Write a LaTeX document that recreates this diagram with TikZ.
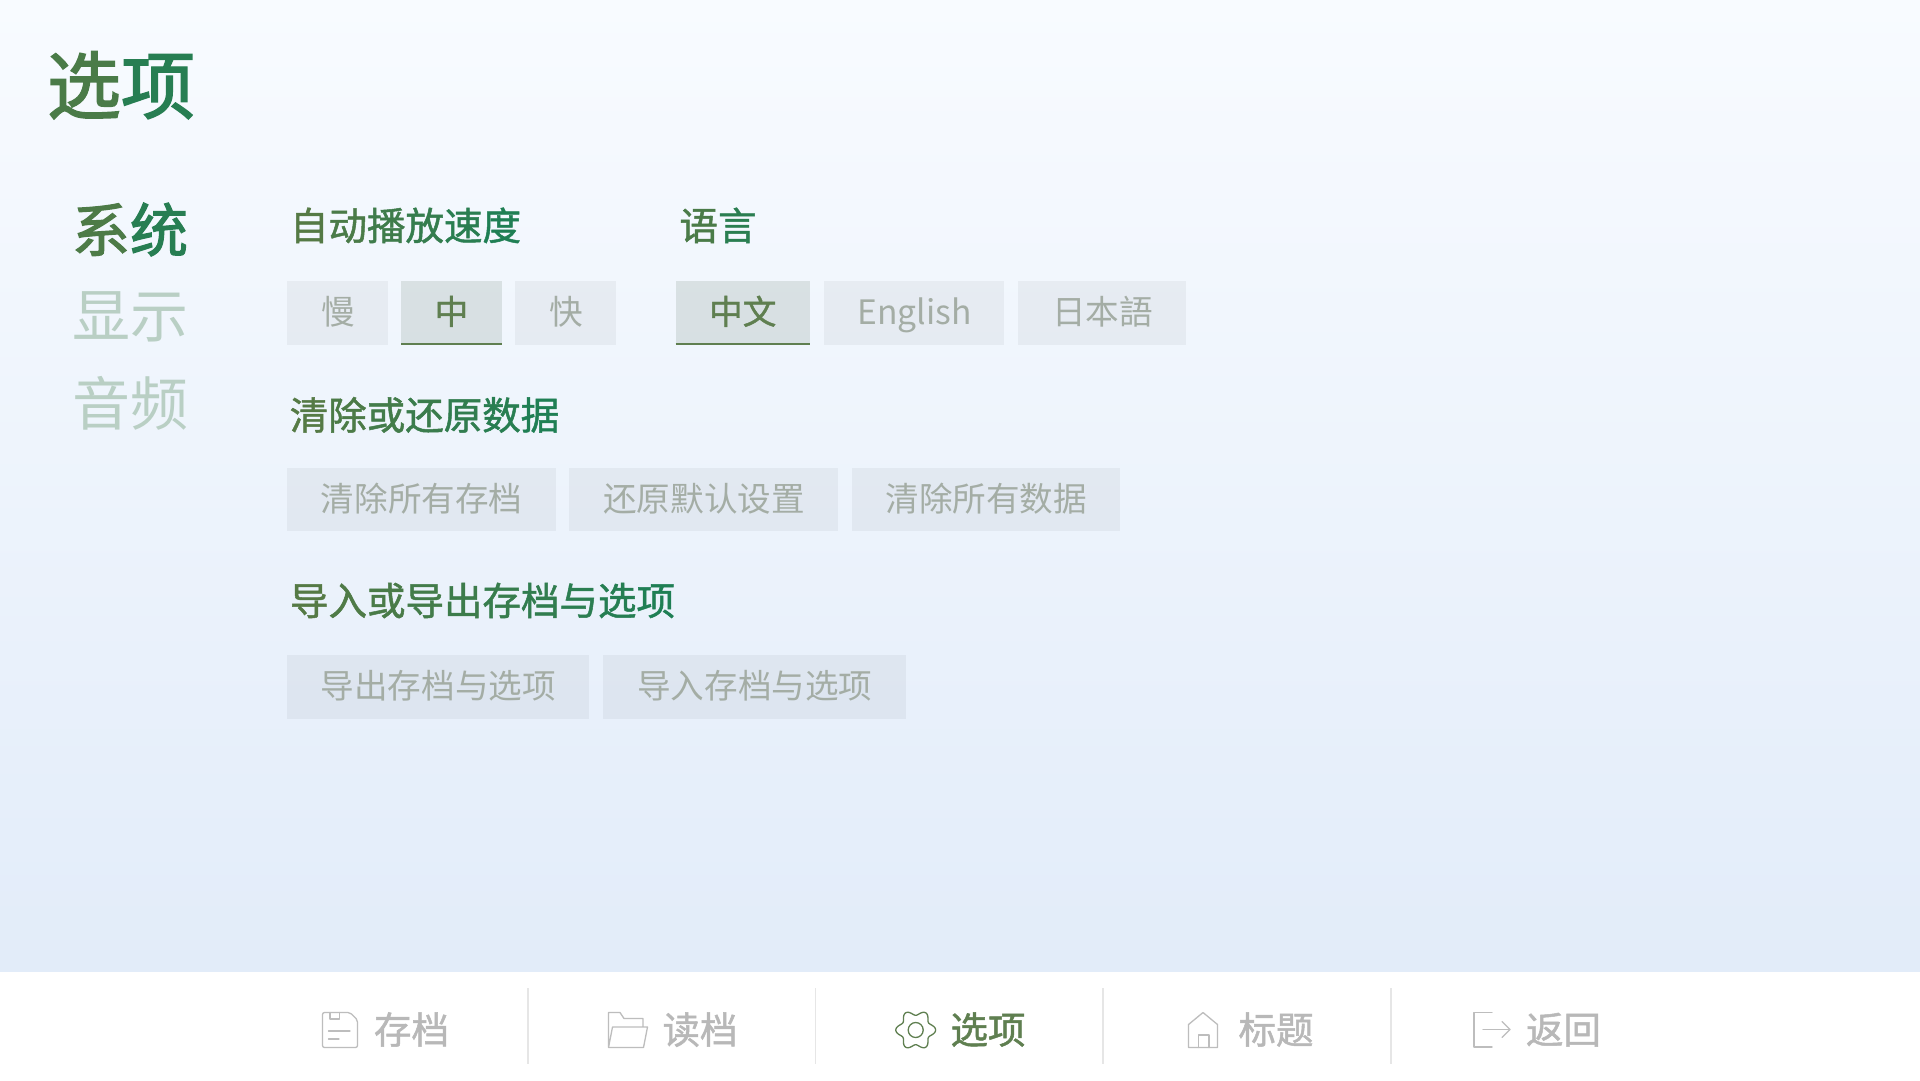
\documentclass[tikz,border=0pt]{standalone}
\usepackage{fontspec}
\setmainfont{Noto Sans CJK SC}
\newfontfamily\medfont[FakeBold=1.3]{Noto Sans CJK SC}
\newfontfamily\semifont[FakeBold=2]{Noto Sans CJK SC}
\definecolor{gA}{HTML}{557A45}
\definecolor{gB}{HTML}{1F7F54}
\definecolor{bgtop}{HTML}{F8FBFF}
\definecolor{bgbot}{HTML}{E2ECF9}
\definecolor{btntext}{HTML}{A4ADA5}
\definecolor{navoff}{HTML}{B9CFC4}
\definecolor{barline}{HTML}{E6E6E6}
\definecolor{baricon}{HTML}{BDBDBD}
\definecolor{bartext}{HTML}{B8B8B8}
\definecolor{act}{HTML}{5F7F50}
\definecolor{actfill}{HTML}{5F7568}
\newcommand\gc[2]{\textcolor{gB!#1!gA}{#2}}
\tikzset{
  x=1pt,y=-1pt,
  fs/.style={font=\fontsize{#1}{#1}\selectfont,text height=.84*#1pt,text depth=.16*#1pt,inner sep=0pt,anchor=center},
  fsm/.style={font=\fontsize{#1}{#1}\medfont,text height=.84*#1pt,text depth=.16*#1pt,inner sep=0pt,anchor=center},
  fss/.style={font=\fontsize{#1}{#1}\semifont,text height=.84*#1pt,text depth=.16*#1pt,inner sep=0pt,anchor=center},
  btnoff/.style={fill=black,fill opacity=.045},
  btnon/.style={fill=actfill,fill opacity=.17},
  icon/.style={draw=baricon,line width=1.3pt,line join=round,line cap=round},
  iconon/.style={draw=act,line width=1.3pt,line join=round},
}
\newcommand\btn[6]{%
  \fill[btnoff] (#2,#4) rectangle (#3,#5);
  \node[fs=33.6,text=btntext] (#1) at ({(#2+#3)/2+0.6},{(#4+#5)/2+0.5}) {#6};
}
\newcommand\bton[6]{%
  \fill[btnon] (#2,#4) rectangle (#3,#5);
  \node[fsm=33.6,text=act] (#1) at ({(#2+#3)/2},{(#4+#5)/2}) {#6};
  \draw[act,line width=1.5pt] (#2,#5-0.8) -- (#3,#5-0.8);
}
\begin{document}
\begin{tikzpicture}
\useasboundingbox (0,0) rectangle (1920,1080);
\shade[top color=bgtop,bottom color=bgbot,draw=none] (0,0) rectangle (1920,972);
\fill[white] (0,972) rectangle (1920,1080);

% title and navigation
\node[fss=74] (title) at (121,88) {\gc{20}{选}\gc{85}{项}};
\node[fss=58] (navsys) at (130,232) {\gc{15}{系}\gc{85}{统}};
\node[fs=58,text=navoff] (navdisp) at (130,318) {显示};
\node[fs=58,text=navoff] (navaudio) at (130,405.5) {音频};

% headings
\node[fsm=38.5] (hspeed) at (405.5,227) {\gc{0}{自}\gc{20}{动}\gc{40}{播}\gc{60}{放}\gc{80}{速}\gc{100}{度}};
\node[fsm=38.5] (hlang) at (718,227) {\gc{20}{语}\gc{80}{言}};
\node[fsm=38.5] (hclear) at (424.5,416.5) {\gc{0}{清}\gc{16}{除}\gc{33}{或}\gc{50}{还}\gc{66}{原}\gc{83}{数}\gc{100}{据}};
\node[fsm=38.5] (himport) at (482.5,602) {\gc{0}{导}\gc{11}{入}\gc{22}{或}\gc{33}{导}\gc{44}{出}\gc{55}{存}\gc{66}{档}\gc{77}{与}\gc{88}{选}\gc{100}{项}};

% row 1
\btn{bslow}{286.5}{388}{280.5}{345}{慢}
\bton{bmid}{401}{502}{280.5}{345}{中}
\btn{bfast}{515}{615.5}{280.5}{345}{快}
\bton{bzh}{675.5}{810}{280.5}{345}{中文}
\btn{ben}{824}{1004}{280.5}{345}{English}
\btn{bja}{1018}{1186}{280.5}{345}{日本語}

% row 2
\btn{bc1}{286.5}{555.5}{468}{531}{清除所有存档}
\btn{bc2}{569}{838}{468}{531}{还原默认设置}
\btn{bc3}{851.5}{1120}{468}{531}{清除所有数据}

% row 3
\btn{be1}{286.5}{589}{654.5}{719}{导出存档与选项}
\btn{be2}{603}{905.5}{654.5}{719}{导入存档与选项}

% bottom bar separators
\foreach \sx in {528,815.5,1103,1391}
  \draw[barline,line width=1.2pt] (\sx,988) -- (\sx,1064);

% bottom bar labels
\node[fsm=37.5,text=bartext] (tsave) at (411.5,1031) {存档};
\node[fsm=37.5,text=bartext] (tload) at (700,1031) {读档};
\node[fsm=37.5,text=act] (topt) at (988,1031) {选项};
\node[fsm=37.5,text=bartext] (ttitle) at (1276,1031) {标题};
\node[fsm=37.5,text=bartext] (tback) at (1563.5,1031) {返回};

% save icon
\draw[icon,rounded corners=2pt] (322.5,1012.5) -- (350,1012.5) -- (357.5,1020) -- (357.5,1047.5) -- (322.5,1047.5) -- cycle;
\draw[icon] (330,1012.5) -- (330,1019) -- (339.5,1019) -- (339.5,1012.5);
\draw[icon] (328.5,1031) -- (350,1031);
\draw[icon] (328.5,1039) -- (339,1039);

% load icon
\draw[icon] (643,1027) -- (643,1018.5) -- (624,1018.5) -- (620,1012.5) -- (608.5,1012.5) -- (608.5,1047.5) -- (643.5,1047.5) -- (647.5,1027) -- (612.5,1027) -- (608.5,1047.5);

% gear icon
\draw[iconon] plot[domain=0:360,samples=145,smooth] ({915.7+(17.3+2.6*cos(6*\x))*cos(\x)},{1030+(17.3+2.6*cos(6*\x))*sin(\x)}) -- cycle;
\draw[iconon] (915.7,1030) circle[radius=7.5];

% home icon
\draw[icon] (1188.5,1047.5) -- (1188.5,1024.5) -- (1203,1012.5) -- (1217.5,1024.5) -- (1217.5,1047.5) -- cycle;
\draw[icon] (1198.5,1047.5) -- (1198.5,1035) -- (1209,1035) -- (1209,1047.5);

% back icon
\draw[icon] (1492,1012.5) -- (1474,1012.5) -- (1474,1047) -- (1492,1047);
\draw[icon] (1483,1029.5) -- (1510,1029.5);
\draw[icon] (1502,1021.5) -- (1510,1029.5) -- (1502,1037.5);
\end{tikzpicture}
\end{document}
